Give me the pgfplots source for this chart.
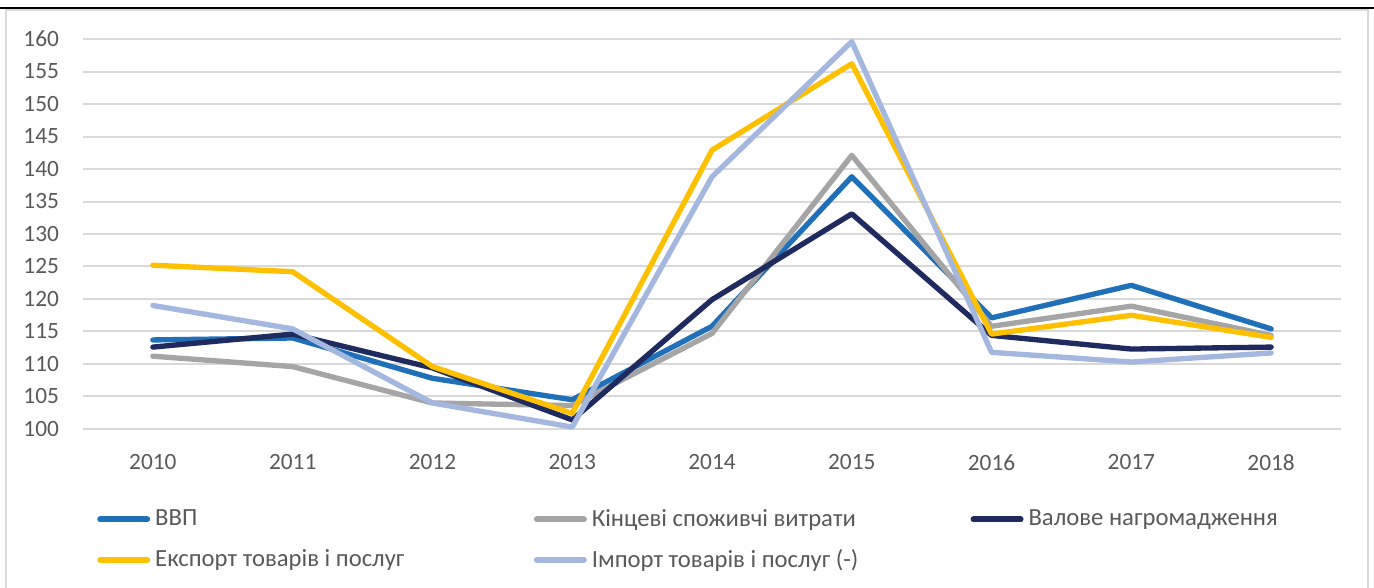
\documentclass[border=0pt]{standalone}
\usepackage{fontspec}
\setmainfont{Carlito}
\usepackage{pgfplots}
\pgfplotsset{compat=1.18}
\definecolor{cBlue}{HTML}{1F70B8}
\definecolor{cGray}{HTML}{A5A5A5}
\definecolor{cNavy}{HTML}{1F2A5E}
\definecolor{cYellow}{HTML}{FFC000}
\definecolor{cLight}{HTML}{A3B7DF}
\definecolor{cText}{HTML}{595959}
\definecolor{cGrid}{HTML}{D9D9D9}
\pgfplotstableread{
x vvp kin val eksp imp
0 113.7 111.2 112.6 125.2 119.0
1 114.0 109.6 114.6 124.2 115.4
2 107.8 104.0 109.4 109.6 104.0
3 104.5 103.6 101.4 102.4 100.3
4 115.8 114.7 119.9 142.9 138.8
5 138.8 142.1 133.1 156.2 159.6
6 117.1 115.8 114.4 114.6 111.8
7 122.1 118.9 112.3 117.5 110.3
8 115.4 114.4 112.6 114.1 111.7
}\datatable
\begin{document}
\fontsize{17.5}{21}\selectfont
\begin{tikzpicture}
\useasboundingbox (0,0) rectangle (1030.5pt,441pt);
\draw[cGrid, line width=1.2pt] (4.5pt,0) -- (4.5pt,433.5pt) -- (1026pt,433.5pt) -- (1026pt,0);
\draw[black, line width=1.5pt] (0,435pt) -- (1030.5pt,435pt);
\begin{axis}[
  at={(62.25pt,119.25pt)}, anchor=south west,
  scale only axis, width=943.5pt, height=292.5pt,
  xmin=-0.5, xmax=8.5, ymin=100, ymax=160,
  xtick={0,1,2,3,4,5,6,7,8},
  xticklabels={2010,2011,2012,2013,2014,2015,2016,2017,2018},
  ytick={100,105,...,160},
  axis line style={draw=none}, major tick length=0pt,
  ymajorgrids, grid style={cGrid, line width=1.5pt},
  tick label style={font=\fontsize{17.5}{21}\selectfont, text=cText},
  yticklabel style={xshift=-12pt},
  xticklabel style={yshift=-13pt},
  /pgf/number format/assume math mode=true,
  clip=false,
  legend columns=3,
  legend cell align=left,
  legend style={at={(0.0111,-0.205)}, anchor=north west, draw=none, fill=none,
    font=\fontsize{18.5}{22}\selectfont, text=cText, column sep=0pt, row sep=14.5pt,
    inner sep=0pt, nodes={inner sep=0pt}},
  legend image code/.code={\draw[#1, line width=4.5pt, line cap=round] (2.25pt,0pt) -- (37.5pt,0pt);},
  every axis plot/.append style={line width=4pt, line join=round, line cap=round},
]
\addplot[cBlue] table[x=x,y=vvp] {\datatable};
\addlegendentry{\hspace*{3.75pt}\makebox[284pt][l]{ВВП}}
\addplot[cGray] table[x=x,y=kin] {\datatable};
\addlegendentry{\hspace*{3.75pt}\makebox[284pt][l]{Кінцеві споживчі витрати}}
\addplot[cNavy] table[x=x,y=val] {\datatable};
\addlegendentry{\hspace*{3.75pt}\makebox[284pt][l]{Валове нагромадження}}
\addplot[cYellow] table[x=x,y=eksp] {\datatable};
\addlegendentry{\hspace*{3.75pt}\makebox[284pt][l]{Експорт товарів і послуг}}
\addplot[cLight] table[x=x,y=imp] {\datatable};
\addlegendentry{\hspace*{3.75pt}\makebox[284pt][l]{Імпорт товарів і послуг (-)}}
\end{axis}
\end{tikzpicture}
\end{document}
